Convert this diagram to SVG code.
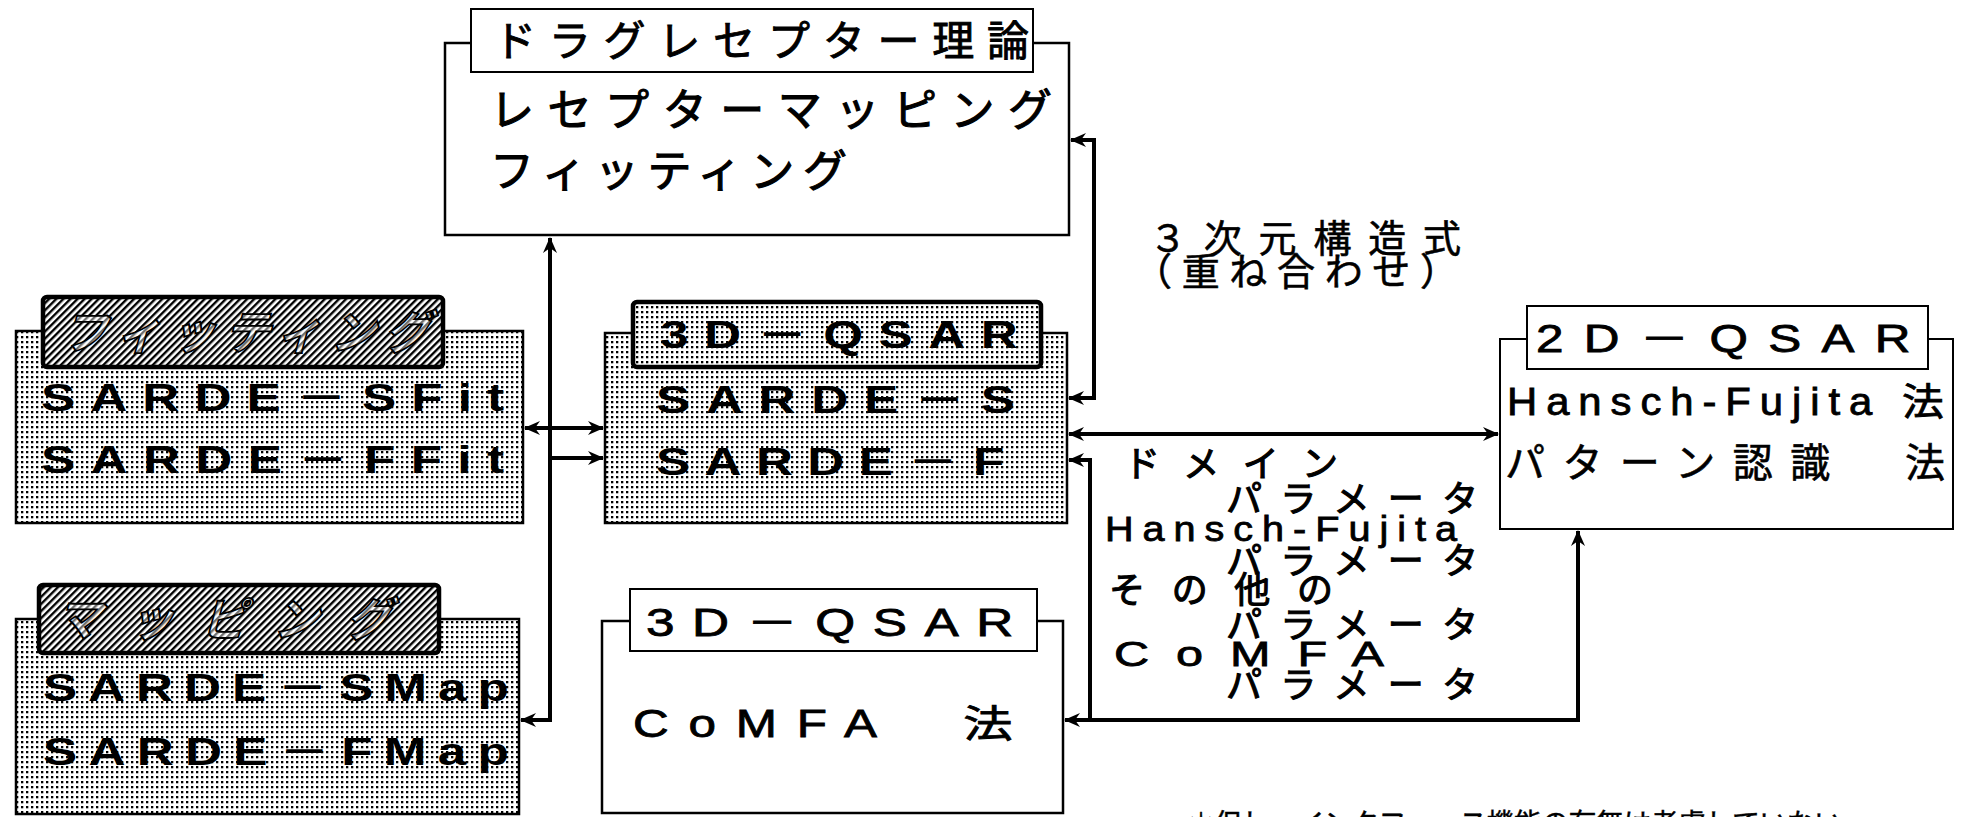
<svg xmlns="http://www.w3.org/2000/svg" width="1966" height="817" viewBox="0 0 1966 817">
<defs>
<pattern id="dots" width="5" height="5" patternUnits="userSpaceOnUse"><rect width="5" height="5" fill="#fff"/><rect x="1" y="1" width="2.3" height="2.3" fill="#000"/></pattern>
<pattern id="hatch" width="5" height="5" patternUnits="userSpaceOnUse" patternTransform="rotate(45)"><rect width="5" height="5" fill="#fff"/><rect width="2.4" height="5" fill="#000"/></pattern>
<marker id="ah" viewBox="0 0 16 16" refX="15" refY="8" markerWidth="16" markerHeight="16" markerUnits="userSpaceOnUse" orient="auto-start-reverse"><path d="M0,1 L16,8 L0,15 L5,8 z" fill="#000"/></marker>
</defs>
<style>
.box{fill:#fff;stroke:#000;stroke-width:2.5}
.tab{fill:#fff;stroke:#000;stroke-width:2}
.dbox{fill:url(#dots);stroke:#000;stroke-width:2.5}
.dtab{fill:url(#dots);stroke:#000;stroke-width:4.5}
.htab{fill:url(#hatch);stroke:#000;stroke-width:4.5}
.jp{font-family:"Noto Sans CJK JP","Liberation Sans",sans-serif;font-size:44px;font-weight:400;fill:#000;stroke:#000;stroke-width:1.1}
.lat{font-family:"Liberation Sans","Noto Sans CJK JP",sans-serif;font-size:38px;fill:#000}
.med{stroke:#000;stroke-width:0.8}
.bold{font-weight:bold}
.sm{font-size:36px}
.hol{font-family:"Noto Sans CJK JP",sans-serif;font-size:46px;font-weight:bold;fill:#fff;fill-opacity:0.45;stroke:#000;stroke-width:1.8}
.conn{fill:none;stroke:#000;stroke-width:4;stroke-linejoin:miter}
</style>
<rect width="1966" height="817" fill="#fff"/>

<g id="connectors">
<path class="conn" d="M550,238 L550,720 L521,720" marker-start="url(#ah)" marker-end="url(#ah)"/>
<path class="conn" d="M525,428 L603,428" marker-start="url(#ah)" marker-end="url(#ah)"/>
<path class="conn" d="M550,458 L603,458" marker-end="url(#ah)"/>
<path class="conn" d="M1071,140 L1094,140 L1094,398 L1069,398" marker-start="url(#ah)" marker-end="url(#ah)"/>
<path class="conn" d="M1069,434 L1498,434" marker-start="url(#ah)" marker-end="url(#ah)"/>
<path class="conn" d="M1065,720 L1578,720 L1578,531" marker-start="url(#ah)" marker-end="url(#ah)"/>
<path class="conn" d="M1090,720 L1090,460 L1069,460" marker-end="url(#ah)"/>
</g>

<g id="node-drug-receptor">
<rect class="box" x="445" y="43" width="624" height="192"/>
<rect class="tab" x="471" y="9" width="562" height="63"/>
<text class="jp" style="font-size:42px;stroke-width:0.9" x="494" y="56" textLength="535" lengthAdjust="spacing">ドラグレセプター理論</text>
<text class="jp" x="490" y="126" textLength="562" lengthAdjust="spacing">レセプターマッピング</text>
<text class="jp" x="490" y="187" textLength="357" lengthAdjust="spacing">フィッティング</text>
</g>

<g id="node-fitting">
<rect class="dbox" x="16" y="331" width="507" height="192"/>
<rect class="htab" x="43" y="297" width="400" height="70" rx="4"/>
<text class="hol" transform="translate(62,349) skewX(-15)" x="0" y="0" textLength="368" lengthAdjust="spacing">フィッティング</text>
<text class="lat bold" transform="translate(41,411) scale(1.35,1)" x="0" y="0" textLength="343" lengthAdjust="spacing">SARDE－SFit</text>
<text class="lat bold" transform="translate(41,473) scale(1.35,1)" x="0" y="0" textLength="343" lengthAdjust="spacing">SARDE－FFit</text>
</g>

<g id="node-mapping">
<rect class="dbox" x="16" y="619" width="503" height="195"/>
<rect class="htab" x="39" y="585" width="400" height="68" rx="4"/>
<text class="hol" transform="translate(56,636) skewX(-15)" x="0" y="0" textLength="335" lengthAdjust="spacing">マッピング</text>
<text class="lat bold" transform="translate(43,701) scale(1.35,1)" x="0" y="0" textLength="345" lengthAdjust="spacing">SARDE－SMap</text>
<text class="lat bold" transform="translate(43,765) scale(1.35,1)" x="0" y="0" textLength="345" lengthAdjust="spacing">SARDE－FMap</text>
</g>

<g id="node-3dqsar-sarde">
<rect class="dbox" x="605" y="333" width="462" height="190"/>
<rect class="dtab" x="633" y="302" width="408" height="65" rx="4"/>
<text class="lat bold" transform="translate(660,348) scale(1.35,1)" x="0" y="0" textLength="265" lengthAdjust="spacing">3D－QSAR</text>
<text class="lat bold" transform="translate(656,413) scale(1.35,1)" x="0" y="0" textLength="266" lengthAdjust="spacing">SARDE－S</text>
<text class="lat bold" transform="translate(656,475) scale(1.35,1)" x="0" y="0" textLength="258" lengthAdjust="spacing">SARDE－F</text>
</g>

<g id="node-3dqsar-comfa">
<rect class="box" x="602" y="621" width="461" height="192"/>
<rect class="tab" x="630" y="589" width="407" height="62"/>
<text class="lat med" transform="translate(646,636) scale(1.35,1)" x="0" y="0" textLength="272" lengthAdjust="spacing">3D－QSAR</text>
<text class="lat med" transform="translate(633,737) scale(1.3,1)" x="0" y="0" textLength="292" lengthAdjust="spacing">CoMFA　法</text>
</g>

<g id="node-2dqsar">
<rect class="box" x="1500" y="339" width="453" height="190" style="stroke-width:2"/>
<rect class="tab" x="1527" y="306" width="401" height="63"/>
<text class="lat med" transform="translate(1536,352) scale(1.3,1)" x="0" y="0" textLength="288" lengthAdjust="spacing">2D－QSAR</text>
<text class="lat med" transform="translate(1507,415) scale(1.1,1)" x="0" y="0" textLength="397" lengthAdjust="spacing">Hansch-Fujita 法</text>
<text class="jp" style="font-size:40px;stroke-width:0.6" x="1505" y="477" textLength="440" lengthAdjust="spacing">パターン認識　法</text>
</g>

<g id="labels">
<text class="jp" style="font-size:38px;stroke-width:0.6" x="1149" y="252" textLength="312" lengthAdjust="spacing">３次元構造式</text>
<text class="jp" style="font-size:38px;stroke-width:0.6" x="1134" y="285" textLength="324" lengthAdjust="spacing">（重ね合わせ）</text>
<text class="jp sm" x="1124" y="477" textLength="214" lengthAdjust="spacing">ドメイン</text>
<text class="jp sm" x="1226" y="512" textLength="252" lengthAdjust="spacing">パラメータ</text>
<text class="lat sm med" transform="translate(1105,541) scale(1.1,1)" x="0" y="0" textLength="320" lengthAdjust="spacing">Hansch-Fujita</text>
<text class="jp sm" x="1226" y="574" textLength="252" lengthAdjust="spacing">パラメータ</text>
<text class="jp sm" x="1109" y="603" textLength="224" lengthAdjust="spacing">その他の</text>
<text class="jp sm" x="1226" y="638" textLength="252" lengthAdjust="spacing">パラメータ</text>
<text class="lat sm med" transform="translate(1114,666) scale(1.35,1)" x="0" y="0" textLength="200" lengthAdjust="spacing">CoMFA</text>
<text class="jp sm" x="1226" y="698" textLength="252" lengthAdjust="spacing">パラメータ</text>
<text class="jp" x="1187" y="834" style="font-size:28px;stroke-width:0.4" textLength="655" lengthAdjust="spacing">＊但し、インタフェース機能の有無は考慮していない</text>
</g>
</svg>
